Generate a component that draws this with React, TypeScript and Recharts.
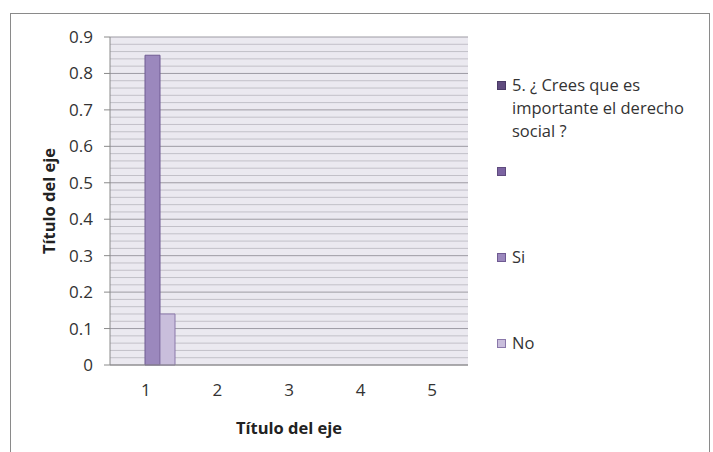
import React from 'react';
import { BarChart, Bar, XAxis, YAxis, CartesianGrid, Label } from 'recharts';

const categories = ['1', '2', '3', '4', '5'];
const seriesNames = ['5. ¿ Crees que es importante el derecho social ?', '', 'Si', 'No'];
const seriesQuestion: (number | null)[] = [null, null, null, null, null];
const seriesBlank: (number | null)[] = [null, null, null, null, null];
const seriesSi: (number | null)[] = [0.85, null, null, null, null];
const seriesNo: (number | null)[] = [0.14, null, null, null, null];
const yTicks = [0, 0.1, 0.2, 0.3, 0.4, 0.5, 0.6, 0.7, 0.8, 0.9];
const yMinorTicks = [
  0.02, 0.04, 0.06, 0.08, 0.12, 0.14, 0.16, 0.18, 0.22, 0.24, 0.26, 0.28,
  0.32, 0.34, 0.36, 0.38, 0.42, 0.44, 0.46, 0.48, 0.52, 0.54, 0.56, 0.58,
  0.62, 0.64, 0.66, 0.68, 0.72, 0.74, 0.76, 0.78, 0.82, 0.84, 0.86, 0.88,
];

const fills = ['#5f4b7e', '#7b63a1', '#9b88bd', '#c9bedc'];
const strokes = ['#4a3a66', '#5f4b7e', '#6f5a92', '#8a78aa'];
const keys = ['q', 'blank', 'si', 'no'];

const data = categories.map((c, i) => ({
  cat: c,
  q: seriesQuestion[i],
  blank: seriesBlank[i],
  si: seriesSi[i],
  no: seriesNo[i],
}));

const FONT = '"Open Sans", "Liberation Sans", sans-serif';

const YTitle = (props: any) => {
  const vb = props.viewBox || {};
  const x = 48;
  const y = vb.y + vb.height / 2;
  return (
    <text
      x={x}
      y={y}
      transform={`rotate(-90, ${x}, ${y})`}
      textAnchor="middle"
      dominantBaseline="central"
      fontFamily={FONT}
      fontSize={16.5}
      fontWeight="bold"
      fill="#222"
    >
      Título del eje
    </text>
  );
};

export default function App() {
  return (
    <div style={{ position: 'absolute', left: 0, top: 0, width: 713, height: 452, background: '#fff', overflow: 'hidden', fontFamily: FONT }}>
      <div style={{ position: 'absolute', left: 10, top: 13, width: 700, height: 460, border: '1.5px solid #8a8a8a', boxSizing: 'border-box' }} />
      <div style={{ position: 'absolute', left: 0, top: 0 }}>
        <BarChart
          width={713}
          height={452}
          data={data}
          margin={{ top: 37, right: 245, bottom: 17, left: 10 }}
          barCategoryGap={5}
          barGap={0}
        >
          <CartesianGrid
            vertical={false}
            horizontalValues={yMinorTicks}
            stroke="#c2c0c8"
            strokeWidth={1}
            fill="#ebe9f0"
          />
          <CartesianGrid vertical={false} horizontalValues={yTicks} stroke="#9d9ba3" strokeWidth={1} />
          <XAxis
            dataKey="cat"
            height={70}
            tickSize={0}
            tickMargin={19}
            axisLine={{ stroke: '#8a8a8a' }}
            tick={{ fontSize: 17, fill: '#333', fontFamily: FONT }}
          >
            <Label
              value="Título del eje"
              position="insideBottom"
              offset={1}
              style={{ fontSize: 16.5, fontWeight: 'bold', fill: '#222', fontFamily: FONT }}
            />
          </XAxis>
          <YAxis
            width={100}
            domain={[0, 0.9]}
            ticks={yTicks}
            interval={0}
            tickSize={6}
            tickMargin={11}
            axisLine={{ stroke: '#8a8a8a' }}
            tickLine={{ stroke: '#8a8a8a' }}
            tick={{ fontSize: 17, fill: '#333', fontFamily: FONT }}
          >
            <Label content={<YTitle />} />
          </YAxis>
          {keys.map((k, i) => (
            <Bar
              key={k}
              dataKey={k}
              name={seriesNames[i]}
              fill={fills[i]}
              stroke={strokes[i]}
              strokeWidth={1}
              isAnimationActive={false}
            />
          ))}
        </BarChart>
      </div>
      <div style={{ position: 'absolute', left: 497, top: 73, width: 210 }}>
        {seriesNames.map((n, i) => (
          <div key={i} style={{ display: 'flex', alignItems: 'flex-start', height: 86 }}>
            <div
              style={{
                width: 9,
                height: 9,
                marginTop: 8,
                marginRight: 6,
                flex: '0 0 auto',
                background: fills[i],
                border: `1px solid ${strokes[i]}`,
                boxSizing: 'border-box',
              }}
            />
            <div style={{ width: 192, fontSize: 16.5, lineHeight: '23px', color: '#333', fontFamily: FONT }}>{n}</div>
          </div>
        ))}
      </div>
    </div>
  );
}
